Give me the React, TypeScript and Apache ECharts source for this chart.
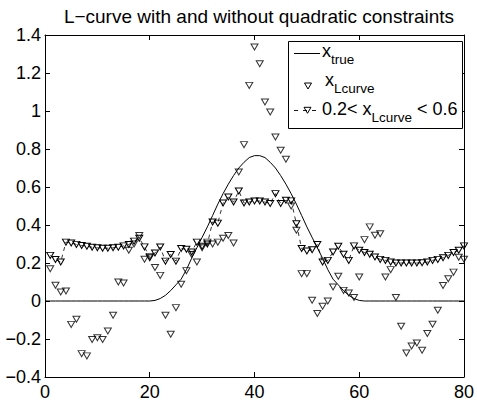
import React, { useEffect, useRef } from "react";
import * as echarts from "echarts";

// ---------------- data ----------------
const trueX = [
  0, 1, 2, 3, 4, 5, 6, 7, 8, 9, 10, 11, 12, 13, 14, 15, 16, 17, 18, 19, 20,
  21, 22, 23, 24, 25, 26, 27, 28, 29, 30, 31, 32, 33, 34, 35, 36, 37, 38, 39, 40,
  41, 42, 43, 44, 45, 46, 47, 48, 49, 50, 51, 52, 53, 54, 55, 56, 57, 58, 59, 60,
  61, 62, 63, 64, 65, 66, 67, 68, 69, 70, 71, 72, 73, 74, 75, 76, 77, 78, 79, 80,
];
const xTrue = [
  0, 0, 0, 0, 0, 0, 0, 0, 0, 0, 0, 0, 0, 0, 0, 0, 0, 0, 0, 0, 0,
  0.003, 0.013, 0.03, 0.055, 0.085, 0.115, 0.165, 0.225, 0.28, 0.335,
  0.39, 0.45, 0.51, 0.565, 0.615, 0.66, 0.7, 0.73, 0.755, 0.765,
  0.765, 0.755, 0.73, 0.7, 0.66, 0.615, 0.565, 0.51, 0.45, 0.39,
  0.335, 0.28, 0.225, 0.165, 0.115, 0.085, 0.055, 0.03, 0.013, 0.003,
  0, 0, 0, 0, 0, 0, 0, 0, 0, 0, 0, 0, 0, 0, 0, 0, 0, 0, 0, 0,
];

const sampleX = [
  1, 2, 3, 4, 5, 6, 7, 8, 9, 10, 11, 12, 13, 14, 15, 16, 17, 18, 19, 20,
  21, 22, 23, 24, 25, 26, 27, 28, 29, 30, 31, 32, 33, 34, 35, 36, 37, 38, 39, 40,
  41, 42, 43, 44, 45, 46, 47, 48, 49, 50, 51, 52, 53, 54, 55, 56, 57, 58, 59, 60,
  61, 62, 63, 64, 65, 66, 67, 68, 69, 70, 71, 72, 73, 74, 75, 76, 77, 78, 79, 80,
];
const xLcurve = [
  0.17, 0.083, 0.047, 0.053, -0.123, -0.096, -0.277, -0.289, -0.203, -0.193,
  -0.203, -0.158, -0.075, 0.1, 0.095, 0.267, 0.3, 0.345, 0.22, 0.235,
  0.176, 0.135, -0.075, -0.175, -0.035, 0.088, 0.16, 0.245, 0.205, 0.28,
  0.31, 0.3, 0.31, 0.33, 0.345, 0.305, 0.679, 0.823, 1.135, 1.337,
  1.249, 1.047, 0.995, 0.863, 0.793, 0.746, 0.5, 0.372, 0.144, 0.144,
  0.004, -0.066, -0.028, 0.0, 0.074, 0.13, 0.056, 0.042, 0.018, 0.126,
  0.323, 0.39, 0.346, 0.354, 0.126, 0.165, 0.018, -0.133, -0.274, -0.237,
  -0.221, -0.259, -0.171, -0.122, -0.049, 0.082, 0.117, 0.152, 0.23, 0.22,
];
const xConstrained = [
  0.24, 0.218, 0.205, 0.31, 0.305, 0.298, 0.292, 0.288, 0.283, 0.28,
  0.278, 0.278, 0.28, 0.283, 0.29, 0.297, 0.315, 0.33, 0.285, 0.228,
  0.253, 0.284, 0.21, 0.245, 0.21, 0.276, 0.272, 0.258, 0.31, 0.288,
  0.3, 0.416, 0.41, 0.516, 0.547, 0.521, 0.579, 0.516, 0.521, 0.526,
  0.526, 0.521, 0.513, 0.565, 0.513, 0.53, 0.527, 0.407, 0.276, 0.263,
  0.27, 0.297, 0.205, 0.214, 0.258, 0.288, 0.246, 0.214, 0.29, 0.267,
  0.255, 0.246, 0.232, 0.219, 0.214, 0.205, 0.2, 0.2, 0.2, 0.2,
  0.2, 0.201, 0.205, 0.214, 0.219, 0.228, 0.24, 0.255, 0.267, 0.29,
];

const xTicks = { min: 0, max: 80, interval: 20 };
const yTicks = { min: -0.4, max: 1.4, interval: 0.2 };

const titleText = "L\u2212curve with and without quadratic constraints";

// ---------------- styling ----------------
const FONT = "'Liberation Sans', Arial, Helvetica, sans-serif";
const TRI = "path://M0,0L10,0L5,8.5Z";
const TRI_SIZE = [7, 6];

const pair = (xs: number[], ys: number[]) => xs.map((x, i) => [x, ys[i]]);

const fmtY = (v: number) => {
  const r = Math.round(v * 10) / 10;
  return (r < 0 ? "\u2212" : "") + String(Math.abs(r));
};

const axisBase = {
  axisLine: { show: true, onZero: false, lineStyle: { color: "#000", width: 1 } },
  axisTick: { show: true, inside: true, length: 5, lineStyle: { color: "#000", width: 1 } },
  splitLine: { show: false },
};

const rich = {
  m: { fontSize: 18, fontFamily: FONT, lineHeight: 20, fill: "#000" },
  s: { fontSize: 13.5, fontFamily: FONT, lineHeight: 15, padding: [17, 0, 0, 0], fill: "#000" },
};

export default function App() {
  const ref = useRef<HTMLDivElement>(null);
  useEffect(() => {
    if (!ref.current) return;
    const chart = echarts.init(ref.current, undefined, { renderer: "svg" });
    const option: any = {
      animation: false,
      backgroundColor: "#fff",
      title: {
        text: titleText,
        left: 254,
        top: 2,
        textAlign: "center",
        textStyle: { fontFamily: FONT, fontSize: 19, fontWeight: "normal", color: "#000" },
      },
      grid: { left: 45, right: 12, top: 35, bottom: 25, containLabel: false },
      xAxis: [
        {
          type: "value", position: "bottom", ...xTicks, ...axisBase,
          axisLabel: { color: "#000", fontFamily: FONT, fontSize: 18, margin: 6 },
        },
        {
          type: "value", position: "top", ...xTicks, ...axisBase,
          axisLabel: { show: false },
        },
      ],
      yAxis: [
        {
          type: "value", position: "left", ...yTicks, ...axisBase,
          axisLabel: { color: "#000", fontFamily: FONT, fontSize: 18, margin: 4, formatter: fmtY },
        },
        {
          type: "value", position: "right", ...yTicks, ...axisBase,
          axisLabel: { show: false },
        },
      ],
      series: [
        {
          name: "x_true", type: "line", data: pair(trueX, xTrue), symbol: "none",
          lineStyle: { color: "#000", width: 1 }, silent: true, z: 2,
        },
        {
          name: "x_Lcurve", type: "scatter", data: pair(sampleX, xLcurve),
          symbol: TRI, symbolSize: TRI_SIZE, silent: true, z: 3,
          itemStyle: { color: "rgba(0,0,0,0)", borderColor: "#000", borderWidth: 1 },
        },
        {
          name: "0.2< x_Lcurve < 0.6", type: "line", data: pair(sampleX, xConstrained),
          symbol: TRI, symbolSize: TRI_SIZE, showSymbol: true, silent: true, z: 3,
          lineStyle: { color: "#000", width: 0.8, type: [4, 4] },
          itemStyle: { color: "rgba(0,0,0,0)", borderColor: "#000", borderWidth: 1 },
        },
      ],
      graphic: [
        {
          type: "rect", z: 100, shape: { x: 288.5, y: 41.5, width: 174, height: 87 },
          style: { fill: "#fff", stroke: "#000", lineWidth: 1 },
        },
        {
          type: "line", z: 101, shape: { x1: 294, y1: 53.5, x2: 320, y2: 53.5 },
          style: { stroke: "#000", lineWidth: 1 },
        },
        {
          type: "text", z: 101, x: 322, y: 51,
          style: { text: "{m|x}{s|true}", rich, fill: "#000", align: "left", verticalAlign: "middle" },
        },
        {
          type: "polygon", z: 101,
          shape: { points: [[304.5, 83], [311.5, 83], [308, 89]] },
          style: { fill: "none", stroke: "#000", lineWidth: 1 },
        },
        {
          type: "text", z: 101, x: 325, y: 79.5,
          style: { text: "{m|x}{s|Lcurve}", rich, fill: "#000", align: "left", verticalAlign: "middle" },
        },
        {
          type: "line", z: 101, shape: { x1: 294, y1: 110.5, x2: 320, y2: 110.5 },
          style: { stroke: "#000", lineWidth: 0.9, lineDash: [4, 5] },
        },
        {
          type: "polygon", z: 101,
          shape: { points: [[304, 107.3], [311, 107.3], [307.5, 113.3]] },
          style: { fill: "none", stroke: "#000", lineWidth: 1 },
        },
        {
          type: "text", z: 101, x: 322, y: 109,
          style: { text: "{m|0.2< x}{s|Lcurve}{m| < 0.6}", rich, fill: "#000", align: "left", verticalAlign: "middle" },
        },
      ],
    };
    chart.setOption(option);
    return () => chart.dispose();
  }, []);
  return (
    <div
      ref={ref}
      style={{ position: "absolute", left: 0, top: 0, width: 477, height: 402, background: "#fff" }}
    />
  );
}
